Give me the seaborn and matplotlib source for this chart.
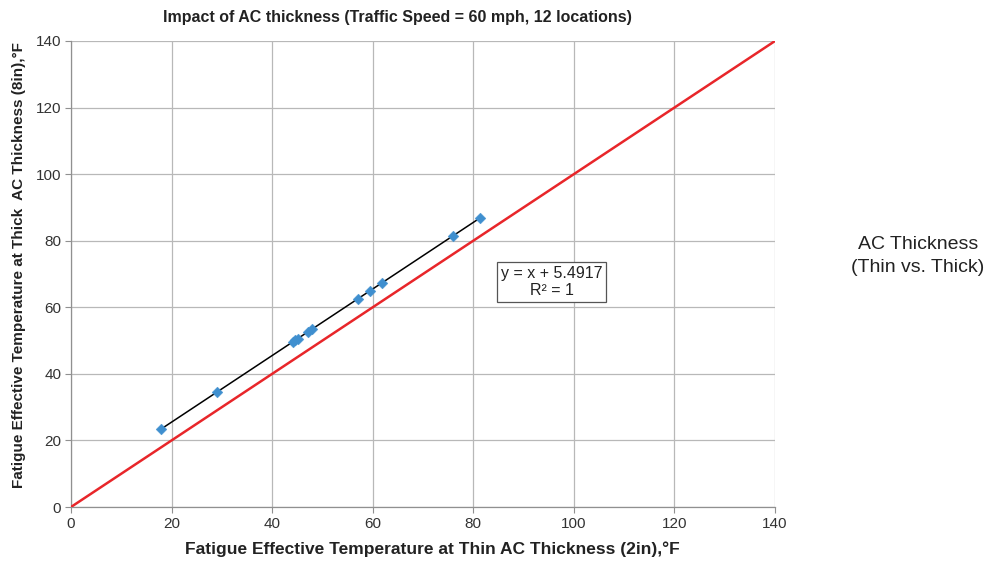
import numpy as np
import pandas as pd
import matplotlib
matplotlib.use("Agg")
import matplotlib.pyplot as plt
import seaborn as sns

# Fatigue effective temperatures (°F) at 12 locations, 60 mph traffic
thin_ac_2in = [18.0, 29.0, 44.1, 44.6, 45.1, 47.2, 47.9, 57.1, 59.4, 61.9, 75.9, 81.3]
thick_ac_8in = [23.5, 34.5, 49.6, 50.1, 50.6, 52.7, 53.4, 62.6, 64.9, 67.4, 81.4, 86.8]

equality_x = [0, 140]
equality_y = [0, 140]

ticks = [0, 20, 40, 60, 80, 100, 120, 140]

sns.set_theme(style="white")
plt.rcParams["font.family"] = ["Liberation Sans", "DejaVu Sans"]

df = pd.DataFrame({"thin": thin_ac_2in, "thick": thick_ac_8in})

fig = plt.figure(figsize=(9.94, 5.67), dpi=100)
ax = fig.add_axes([0.0714, 0.1058, 0.7083, 0.8219])

# line of equality
sns.lineplot(x=equality_x, y=equality_y, ax=ax, color="#e8262a", linewidth=1.8, zorder=3)

# linear trendline through the points
slope, intercept = np.polyfit(df["thin"], df["thick"], 1)
trend_x = np.array([df["thin"].min(), df["thin"].max()])
sns.lineplot(x=trend_x, y=slope * trend_x + intercept, ax=ax, color="black",
             linewidth=1.1, zorder=4)

sns.scatterplot(data=df, x="thin", y="thick", ax=ax, marker="D", s=30,
                color="#3f8fcf", edgecolor="#3f8fcf", linewidth=0.3, zorder=5)

ax.set_xlim(0, 140)
ax.set_ylim(0, 140)
ax.set_xticks(ticks)
ax.set_yticks(ticks)
ax.tick_params(axis="both", labelsize=11, labelcolor="#333333", length=4,
               width=0.8, direction="out", pad=3, bottom=True, left=True,
               color="#909090")

ax.grid(True, color="#b8b8b8", linewidth=0.9)
ax.set_axisbelow(True)
for side in ["top", "right"]:
    ax.spines[side].set_visible(False)
for side in ["left", "bottom"]:
    ax.spines[side].set_color("#909090")
    ax.spines[side].set_linewidth(0.9)

ax.set_xlabel("Fatigue Effective Temperature at Thin AC Thickness (2in),°F",
              fontsize=12.5, fontweight="bold", color="#222222")
ax.set_ylabel("Fatigue Effective Temperature at Thick  AC Thickness (8in),°F",
              fontsize=11, fontweight="bold", color="#222222")
ax.xaxis.set_label_coords(0.513, -0.074)
ax.yaxis.set_label_coords(-0.064, 0.52)
ax.set_title("Impact of AC thickness (Traffic Speed = 60 mph, 12 locations)",
             fontsize=11.5, fontweight="bold", color="#222222", pad=14, x=0.463)

ax.text(95.6, 67.6, "y = x + 5.4917\nR² = 1", ha="center", va="center",
        fontsize=11.5, color="#222222", linespacing=1.15, zorder=6,
        bbox=dict(boxstyle="square,pad=0.25", facecolor="white",
                  edgecolor="#555555", linewidth=0.9))

fig.text(0.9235, 0.5485, "AC Thickness\n(Thin vs. Thick)", ha="center", va="center",
         fontsize=14, color="#222222", linespacing=1.4)

fig.savefig("out.png", dpi=100)
